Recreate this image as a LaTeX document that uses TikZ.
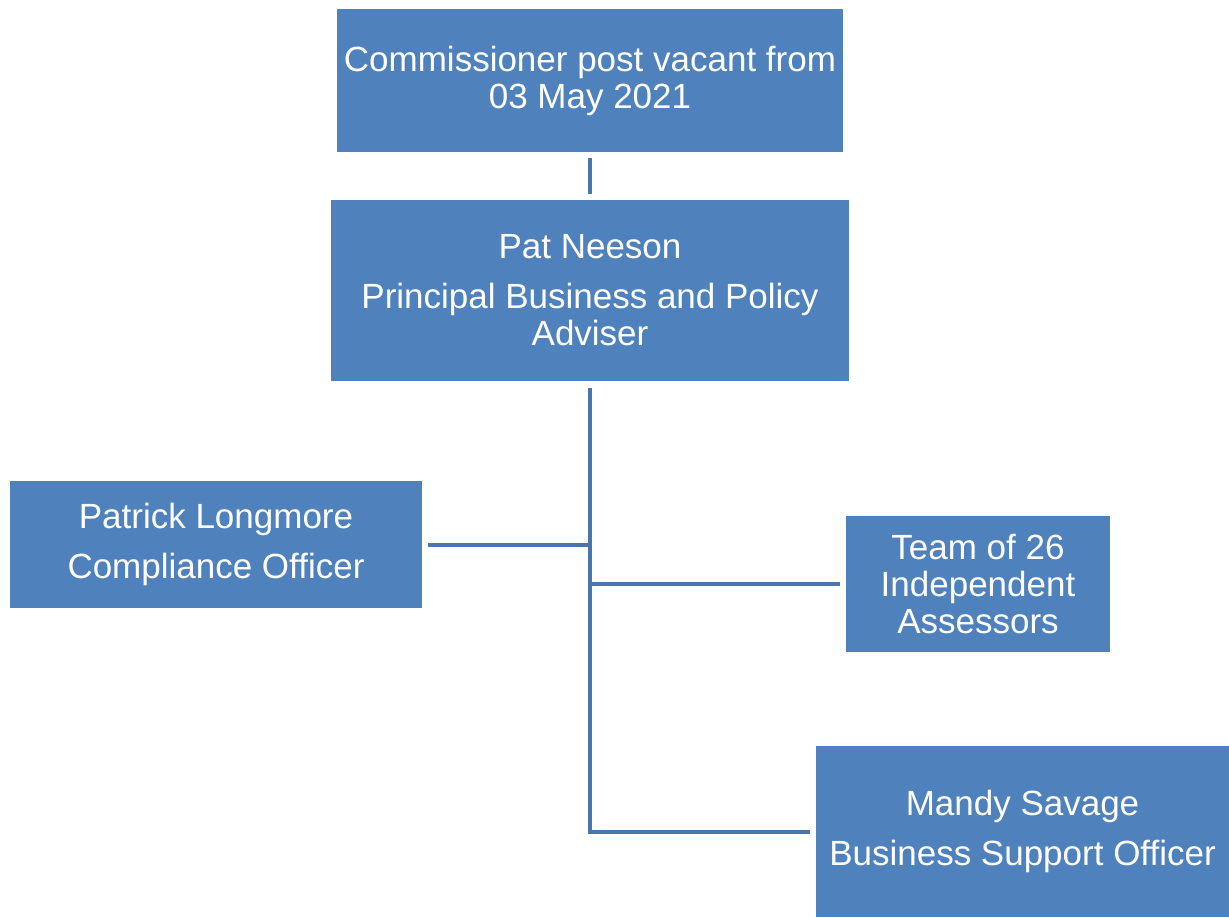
\documentclass[tikz,border=0pt]{standalone}
\usepackage{fontspec}
\setmainfont{Liberation Sans}
\usepackage{tikz}
\usetikzlibrary{positioning}
\definecolor{boxblue}{HTML}{4F81BD}
\definecolor{lineblue}{HTML}{4A76AE}

\begin{document}
\begin{tikzpicture}[x=0.5pt, y=-0.5pt,
	font=\fontsize{17.5}{18.5}\selectfont,
	post/.style={fill=boxblue, draw=none, text=white, align=center, inner sep=0pt},
	link/.style={draw=lineblue, line width=2pt}]

		\useasboundingbox (0,0) rectangle (1229,917);

		% Nodes
		\node[post, minimum width=253pt, minimum height=71.5pt] (comm) at (590,80.5)
			{Commissioner post vacant from\\03 May 2021};

		\node[post, minimum width=259pt, minimum height=90.5pt] (pat) at (590,290.5)
			{Pat Neeson\\[6.5pt]Principal Business and Policy\\Adviser};

		\node[post, minimum width=206pt, minimum height=63.5pt] (long) at (216,544.5)
			{Patrick Longmore\\[6.5pt]Compliance Officer};

		\node[post, minimum width=132pt, minimum height=68pt] (team) at (978,584)
			{Team of 26\\Independent\\Assessors};

		\node[post, minimum width=206.5pt, minimum height=85.5pt] (mandy) at (1022.5,831.5)
			{Mandy Savage\\[6.5pt]Business Support Officer};

		\coordinate (trunk) at (pat.south |- mandy.west);

		% Lines
		\draw[link, shorten <=3pt, shorten >=3pt] (comm) -- (pat);
		\draw[link, shorten <=3.5pt, shorten >=3pt] (pat) -- (trunk) -- (mandy);
		\draw[link, shorten <=3pt] (long) -- (pat.south |- long.east);
		\draw[link, shorten <=3pt] (team) -- (pat.south |- team.west);

\end{tikzpicture}
\end{document}
